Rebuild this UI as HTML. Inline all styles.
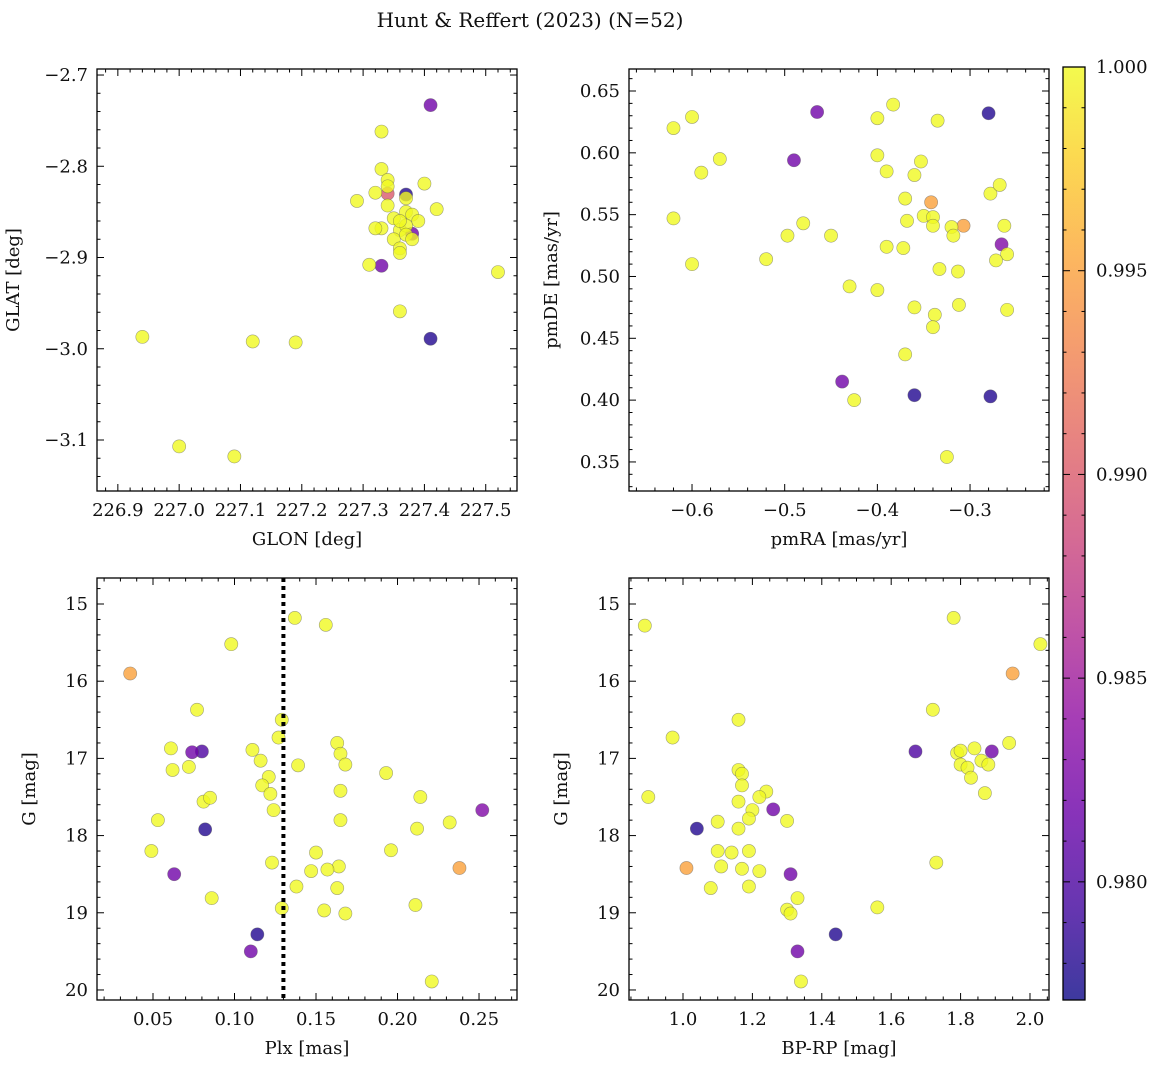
<!DOCTYPE html>
<html><head><meta charset="utf-8">
<style>
body{margin:0;background:#fff;}
svg text{font-family:"DejaVu Serif","Liberation Serif",serif;fill:#111;}
</style></head>
<body>
<svg id="fig" width="1161" height="1067" viewBox="0 0 1161 1067" xmlns="http://www.w3.org/2000/svg">
<text x="530" y="27" font-size="20" text-anchor="middle">Hunt &amp; Reffert (2023) (N=52)</text>
</svg>
<script>
// ---- data ----
const p1Glon=[227.41,227.33,227.33,227.34,227.34,227.32,227.29,227.34,227.37,227.34,227.37,227.40,227.42,227.35,227.37,227.38,227.39,227.33,227.32,227.36,227.37,227.38,227.35,227.36,227.36,227.31,227.33,227.52,227.36,227.41,226.94,227.12,227.19,227.00,227.09,227.37,227.38,227.36];
const p1Glat=[-2.733,-2.762,-2.803,-2.815,-2.822,-2.829,-2.838,-2.843,-2.831,-2.830,-2.835,-2.819,-2.847,-2.857,-2.850,-2.853,-2.860,-2.868,-2.868,-2.870,-2.865,-2.874,-2.880,-2.890,-2.895,-2.908,-2.909,-2.916,-2.959,-2.989,-2.987,-2.992,-2.993,-3.107,-3.118,-2.875,-2.880,-2.860];
const p1Prob=[0.982,1,1,1,1,1,1,1,0.978,0.990,1,1,1,1,1,1,1,1,1,1,1,0.982,1,1,1,1,0.982,1,1,0.978,1,1,1,1,1,1,1,1];

const p2PmRA=[-0.62,-0.60,-0.59,-0.57,-0.62,-0.60,-0.52,-0.497,-0.48,-0.49,-0.465,-0.45,-0.43,-0.425,-0.438,-0.40,-0.40,-0.39,-0.39,-0.40,-0.383,-0.37,-0.368,-0.372,-0.37,-0.36,-0.353,-0.35,-0.34,-0.34,-0.342,-0.335,-0.333,-0.36,-0.338,-0.34,-0.36,-0.32,-0.318,-0.307,-0.313,-0.312,-0.325,-0.28,-0.278,-0.268,-0.263,-0.26,-0.272,-0.266,-0.26,-0.278];
const p2PmDE=[0.620,0.629,0.584,0.595,0.547,0.510,0.514,0.533,0.543,0.594,0.633,0.533,0.492,0.400,0.415,0.628,0.598,0.585,0.524,0.489,0.639,0.563,0.545,0.523,0.437,0.582,0.593,0.549,0.548,0.541,0.560,0.626,0.506,0.475,0.469,0.459,0.404,0.540,0.533,0.541,0.504,0.477,0.354,0.632,0.567,0.574,0.541,0.518,0.513,0.526,0.473,0.403];
const p2Prob=[1,1,1,1,1,1,1,1,1,0.982,0.982,1,1,1,0.982,1,1,1,1,1,1,1,1,1,1,1,1,1,1,1,0.995,1,1,1,1,1,0.978,1,1,0.995,1,1,1,0.978,1,1,1,1,1,0.983,1,0.978];

const p3Plx=[0.036,0.098,0.137,0.156,0.077,0.129,0.127,0.061,0.074,0.080,0.111,0.163,0.165,0.062,0.072,0.116,0.139,0.168,0.121,0.117,0.122,0.165,0.193,0.081,0.085,0.124,0.214,0.252,0.053,0.165,0.082,0.212,0.232,0.049,0.150,0.196,0.123,0.164,0.157,0.147,0.063,0.238,0.138,0.163,0.086,0.129,0.155,0.168,0.211,0.114,0.110,0.221];
const p3G=[15.9,15.52,15.18,15.27,16.37,16.5,16.73,16.87,16.92,16.91,16.89,16.8,16.94,17.15,17.11,17.03,17.09,17.08,17.24,17.35,17.46,17.42,17.19,17.56,17.51,17.67,17.5,17.67,17.8,17.8,17.92,17.91,17.83,18.2,18.22,18.19,18.35,18.4,18.44,18.46,18.5,18.42,18.66,18.68,18.81,18.94,18.97,19.01,18.9,19.28,19.5,19.89];
const p3Prob=[0.995,1,1,1,1,1,1,1,0.982,0.980,1,1,1,1,1,1,1,1,1,1,1,1,1,1,1,1,1,0.983,1,1,0.978,1,1,1,1,1,1,1,1,1,0.982,0.995,1,1,1,1,1,1,1,0.978,0.982,1];
const plxCut=[0.13];

const p4Col=[0.89,1.78,2.03,1.95,0.97,1.16,1.72,1.67,1.79,1.80,1.84,1.89,1.94,0.90,1.16,1.17,1.17,1.80,1.82,1.86,1.88,1.83,1.24,1.22,1.16,1.20,1.26,1.87,1.10,1.19,1.30,1.04,1.16,1.10,1.14,1.19,1.73,1.01,1.11,1.17,1.22,1.31,1.08,1.19,1.33,1.30,1.31,1.56,1.44,1.33,1.34];
const p4G=[15.28,15.18,15.52,15.9,16.73,16.5,16.37,16.91,16.93,16.9,16.87,16.91,16.8,17.5,17.15,17.2,17.35,17.08,17.12,17.03,17.08,17.25,17.43,17.5,17.56,17.67,17.66,17.45,17.82,17.78,17.81,17.91,17.91,18.2,18.22,18.2,18.35,18.42,18.4,18.43,18.46,18.5,18.68,18.66,18.81,18.96,19.01,18.93,19.28,19.5,19.89];
const p4Prob=[1,1,1,0.995,1,1,1,0.980,1,1,1,0.982,1,1,1,1,1,1,1,1,1,1,1,1,1,1,0.982,1,1,1,1,0.978,1,1,1,1,1,0.995,1,1,1,0.982,1,1,1,1,1,1,0.978,0.982,1];

const cbTicks=[0.980,0.985,0.990,0.995,1.000];
const vmin=0.9771, vmax=1.0;

// ---- helpers ----
const NS="http://www.w3.org/2000/svg";
const svg=document.getElementById('fig');
function mk(tag,attrs,parent){const e=document.createElementNS(NS,tag);for(const k in attrs)e.setAttribute(k,attrs[k]);(parent||svg).appendChild(e);return e;}
const stops=[[13,8,135],[65,4,157],[106,0,168],[143,13,164],[177,42,144],[204,71,120],[225,100,98],[242,132,75],[252,166,54],[252,206,37],[240,249,33]];
function plasma(t){t=Math.max(0,Math.min(1,t));const f=t*10,i=Math.min(9,Math.floor(f)),r=f-i;const a=stops[i],b=stops[i+1];return 'rgb('+a.map((v,k)=>Math.round(v+(b[k]-v)*r)).join(',')+')';}
function fmt(v,d){const s=Math.abs(v).toFixed(d);return (v<-1e-9?'\u2212':'')+s;}
const FS=18;

function panel(cfg){
  const {name,L,T,R,B,xmin,xmax,ymin,ymax,inv}=cfg;
  const g=mk('g',{},svg);
  
  
  const sx=v=>L+(v-xmin)/(xmax-xmin)*(R-L);
  const sy=inv?(v=>T+(v-ymin)/(ymax-ymin)*(B-T)):(v=>B-(v-ymin)/(ymax-ymin)*(B-T));
  const idx=cfg.xs.map((_,i)=>i).sort((a,b)=>cfg.ps[a]-cfg.ps[b]);
  const pg=mk('g',{},g);
  
  
  idx.forEach(i=>{
    const c=mk('circle',{cx:sx(cfg.xs[i]),cy:sy(cfg.ys[i]),r:6.6,fill:plasma((cfg.ps[i]-vmin)/(vmax-vmin)),'fill-opacity':0.8,stroke:'rgba(90,90,90,0.55)','stroke-width':0.6},pg);
    
    
  });
  if(cfg.vline){const ln=mk('line',{x1:sx(cfg.vline[0]),x2:sx(cfg.vline[0]),y1:T,y2:B,stroke:'#000','stroke-width':4,'stroke-dasharray':'4,4'},g);
    
    }
  mk('rect',{x:L,y:T,width:R-L,height:B-T,fill:'none',stroke:'#000','stroke-width':1.3},g);
  const eps=1e-7;
  for(let v=Math.ceil((xmin-eps)/cfg.xmin_s)*cfg.xmin_s;v<=xmax+eps;v+=cfg.xmin_s){
    const x=sx(v);const major=Math.abs(v/cfg.xmaj-Math.round(v/cfg.xmaj))<1e-4;const len=major?7:3.5;
    mk('line',{x1:x,x2:x,y1:B,y2:B-len,stroke:'#000','stroke-width':1},g);
    mk('line',{x1:x,x2:x,y1:T,y2:T+len,stroke:'#000','stroke-width':1},g);
    if(major){const t=mk('text',{x:x,y:B+25,'font-size':FS,'text-anchor':'middle'},g);t.textContent=fmt(v,cfg.xd);
      }
  }
  for(let v=Math.ceil((Math.min(ymin,ymax)-eps)/cfg.ymin_s)*cfg.ymin_s;v<=Math.max(ymin,ymax)+eps;v+=cfg.ymin_s){
    const y=sy(v);const major=Math.abs(v/cfg.ymaj-Math.round(v/cfg.ymaj))<1e-4;const len=major?7:3.5;
    mk('line',{x1:L,x2:L+len,y1:y,y2:y,stroke:'#000','stroke-width':1},g);
    mk('line',{x1:R,x2:R-len,y1:y,y2:y,stroke:'#000','stroke-width':1},g);
    if(major){const t=mk('text',{x:L-9,y:y+6,'font-size':FS,'text-anchor':'end'},g);t.textContent=fmt(v,cfg.yd);
      }
  }
  const xt=mk('text',{x:(L+R)/2,y:B+54,'font-size':FS,'text-anchor':'middle'},g);xt.textContent=cfg.xl;
  
  const yx=L-78+(cfg.yoff||0);
  const yt=mk('text',{x:yx,y:(T+B)/2,'font-size':FS,'text-anchor':'middle',transform:'rotate(-90 '+yx+' '+(T+B)/2+')'},g);yt.textContent=cfg.yl;
  
}

panel({name:'glon-glat-panel',L:97,T:69,R:517,B:491,xmin:226.866,xmax:227.551,ymin:-3.1559,ymax:-2.6934,xs:p1Glon,ys:p1Glat,ps:p1Prob,xmaj:0.1,xmin_s:0.02,ymaj:0.1,ymin_s:0.02,xd:1,yd:1,xl:'GLON [deg]',yl:'GLAT [deg]'});
panel({name:'proper-motion-panel',L:629,T:69,R:1049,B:491,xmin:-0.668,xmax:-0.2148,ymin:0.3265,ymax:0.6678,xs:p2PmRA,ys:p2PmDE,ps:p2Prob,xmaj:0.1,xmin_s:0.02,ymaj:0.05,ymin_s:0.01,xd:1,yd:2,xl:'pmRA [mas/yr]',yl:'pmDE [mas/yr]',yoff:6});
panel({name:'parallax-mag-panel',L:97,T:578,R:517,B:1000,xmin:0.01564,xmax:0.2733,ymin:14.663,ymax:20.13,inv:true,xs:p3Plx,ys:p3G,ps:p3Prob,xmaj:0.05,xmin_s:0.01,ymaj:1,ymin_s:0.2,xd:2,yd:0,xl:'Plx [mas]',yl:'G [mag]',vline:plxCut,yoff:16});
panel({name:'cmd-panel',L:629,T:578,R:1049,B:1000,xmin:0.8444,xmax:2.0548,ymin:14.663,ymax:20.13,inv:true,xs:p4Col,ys:p4G,ps:p4Prob,xmaj:0.2,xmin_s:0.05,ymaj:1,ymin_s:0.2,xd:1,yd:0,xl:'BP-RP [mag]',yl:'G [mag]',yoff:16});

// colorbar
const cb=mk('g',{},svg);


const cL=1063,cR=1085,cT=67,cB=1000;
const defs=mk('defs',{},svg);
const gr=mk('linearGradient',{id:'cbg',x1:0,y1:1,x2:0,y2:0},defs);
for(let i=0;i<=10;i++)mk('stop',{offset:i/10,'stop-color':plasma(i/10),'stop-opacity':0.8},gr);
mk('rect',{x:cL,y:cT,width:cR-cL,height:cB-cT,fill:'url(#cbg)',stroke:'#000','stroke-width':1.3},cb);
const cy=v=>cB-(v-vmin)/(vmax-vmin)*(cB-cT);
for(let v=0.978;v<=1.00001;v+=0.001){const y=cy(v);const major=Math.abs(v*200-Math.round(v*200))<1e-4;
  mk('line',{x1:cR,x2:cR-(major?7:3.5),y1:y,y2:y,stroke:'#000','stroke-width':1},cb);
  mk('line',{x1:cL,x2:cL+(major?7:3.5),y1:y,y2:y,stroke:'#000','stroke-width':1},cb);}
cbTicks.forEach(v=>{const t=mk('text',{x:cR+11,y:cy(v)+6,'font-size':FS},cb);t.textContent=v.toFixed(3);
  });
</script>
</body></html>
